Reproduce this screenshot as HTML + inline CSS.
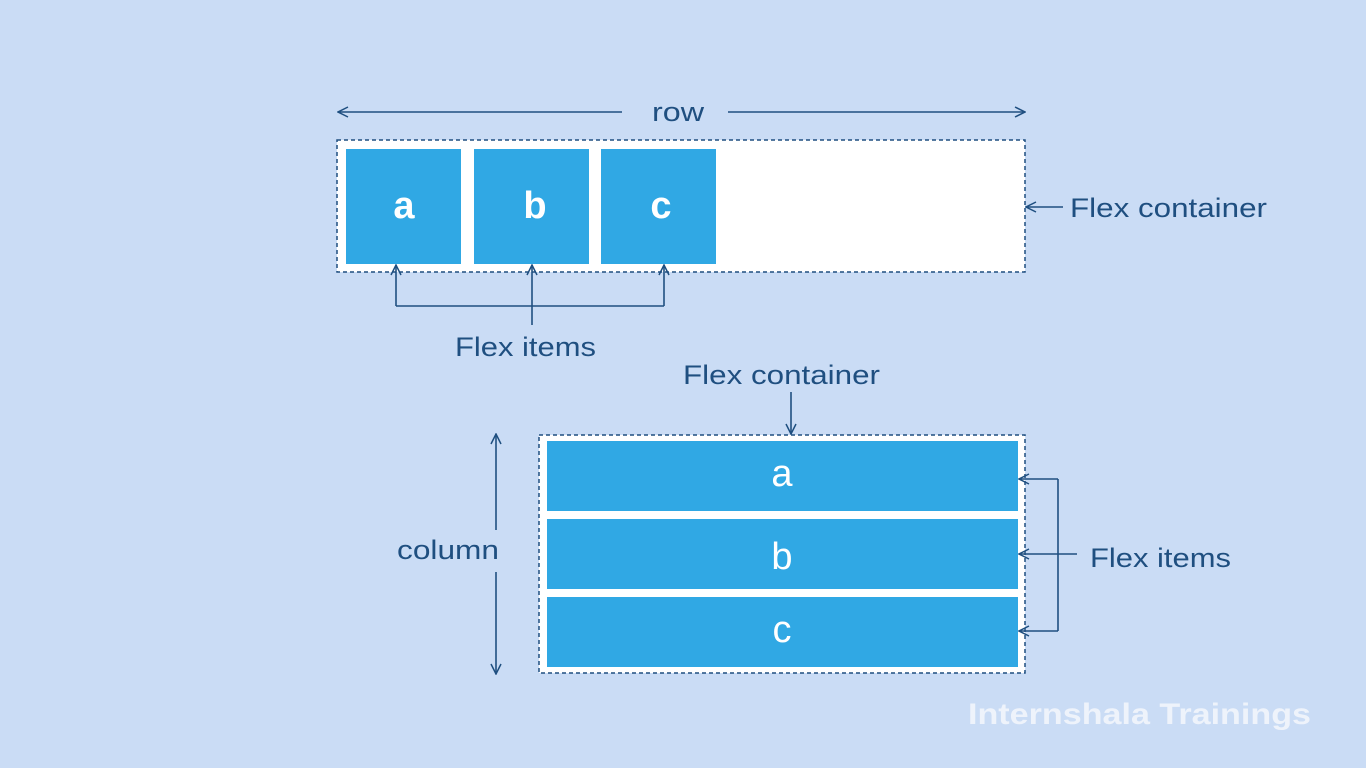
<!DOCTYPE html>
<html><head><meta charset="utf-8"><style>
html,body{margin:0;padding:0;width:1366px;height:768px;overflow:hidden;background:#cadcf5;}
svg{display:block}
text{font-family:"Liberation Sans",sans-serif;}
</style></head><body>
<svg width="1366" height="768" viewBox="0 0 1366 768">
<defs>
<marker id="ah" viewBox="0 0 12 12" refX="11" refY="6" markerWidth="12" markerHeight="12" markerUnits="userSpaceOnUse" orient="auto">
<path d="M1,1 L11,6 L1,11" fill="none" stroke="#1f4f80" stroke-width="1.5"/></marker>
</defs>
<rect width="1366" height="768" fill="#cadcf5"/>
<g stroke="#1f4f80" stroke-width="1.6" fill="none">
<line x1="622" y1="112" x2="338" y2="112" marker-end="url(#ah)"/>
<line x1="728" y1="112" x2="1025" y2="112" marker-end="url(#ah)"/>
<line x1="1063" y1="207" x2="1026" y2="207" marker-end="url(#ah)"/>
</g>
<text x="652" y="121" font-size="27" fill="#1f4f80" textLength="52" lengthAdjust="spacingAndGlyphs">row</text>
<rect x="337" y="140" width="688" height="132" fill="#fff" stroke="#1f4f80" stroke-width="1.5" stroke-dasharray="4,3"/>
<g>
<rect x="346" y="149" width="115" height="115" fill="#30a8e4"/>
<rect x="474" y="149" width="115" height="115" fill="#30a8e4"/>
<rect x="601" y="149" width="115" height="115" fill="#30a8e4"/>
<text x="404" y="218" font-size="38" font-weight="bold" fill="#fff" text-anchor="middle">a</text>
<text x="535" y="218" font-size="38" font-weight="bold" fill="#fff" text-anchor="middle">b</text>
<text x="661" y="218" font-size="38" font-weight="bold" fill="#fff" text-anchor="middle">c</text>
</g>
<text x="1070" y="217" font-size="27" fill="#1f4f80" textLength="197" lengthAdjust="spacingAndGlyphs">Flex container</text>
<g stroke="#1f4f80" stroke-width="1.6" fill="none">
<line x1="396" y1="306" x2="396" y2="265" marker-end="url(#ah)"/>
<line x1="664" y1="306" x2="664" y2="265" marker-end="url(#ah)"/>
<line x1="532" y1="325" x2="532" y2="265" marker-end="url(#ah)"/>
<line x1="396" y1="306" x2="664" y2="306"/>
</g>
<text x="455" y="356" font-size="27" fill="#1f4f80" textLength="141" lengthAdjust="spacingAndGlyphs">Flex items</text>
<text x="683" y="384" font-size="27" fill="#1f4f80" textLength="197" lengthAdjust="spacingAndGlyphs">Flex container</text>
<g stroke="#1f4f80" stroke-width="1.6" fill="none">
<line x1="791" y1="392" x2="791" y2="434" marker-end="url(#ah)"/>
<line x1="496" y1="530" x2="496" y2="434" marker-end="url(#ah)"/>
<line x1="496" y1="572" x2="496" y2="674" marker-end="url(#ah)"/>
</g>
<text x="397" y="559" font-size="27" fill="#1f4f80" textLength="102" lengthAdjust="spacingAndGlyphs">column</text>
<rect x="539" y="435" width="486" height="238" fill="#fff" stroke="#1f4f80" stroke-width="1.5" stroke-dasharray="4,3"/>
<g>
<rect x="547" y="441" width="471" height="70" fill="#30a8e4"/>
<rect x="547" y="519" width="471" height="70" fill="#30a8e4"/>
<rect x="547" y="597" width="471" height="70" fill="#30a8e4"/>
<text x="782" y="486" font-size="38" fill="#fff" text-anchor="middle">a</text>
<text x="782" y="569" font-size="38" fill="#fff" text-anchor="middle">b</text>
<text x="782" y="642" font-size="38" fill="#fff" text-anchor="middle">c</text>
</g>
<g stroke="#1f4f80" stroke-width="1.6" fill="none">
<line x1="1058" y1="479" x2="1019" y2="479" marker-end="url(#ah)"/>
<line x1="1077" y1="554" x2="1019" y2="554" marker-end="url(#ah)"/>
<line x1="1058" y1="631" x2="1019" y2="631" marker-end="url(#ah)"/>
<line x1="1058" y1="479" x2="1058" y2="631"/>
</g>
<text x="1090" y="567" font-size="27" fill="#1f4f80" textLength="141" lengthAdjust="spacingAndGlyphs">Flex items</text>
<text x="968" y="724" font-size="30" font-weight="bold" fill="#eef3fb" textLength="343" lengthAdjust="spacingAndGlyphs">Internshala Trainings</text>
</svg>
</body></html>
